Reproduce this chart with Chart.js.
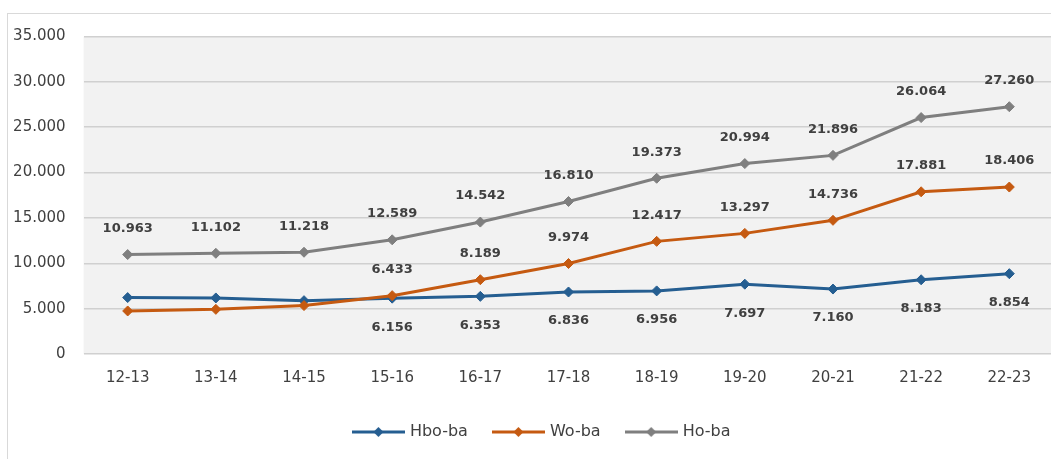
<!DOCTYPE html>
<html>
<head>
<meta charset="utf-8">
<script src="https://cdn.jsdelivr.net/npm/chart.js@4.4.0/dist/chart.umd.min.js"></script>
<style>
  html, body { margin: 0; padding: 0; background: #fff; overflow: hidden; }
  #wrap { position: absolute; left: 0; top: 0; width: 1060px; height: 459px; }
  #frame { position: absolute; left: 7px; top: 13px; width: 1100px; height: 500px;
           border-left: 1px solid #d9d9d9; border-top: 1px solid #d9d9d9; }
</style>
</head>
<body>
<div id="frame"></div>
<div id="wrap"><canvas id="chart" width="1060" height="459"></canvas></div>
<script>
// jaren
const categories = ['12-13', '13-14', '14-15', '15-16', '16-17', '17-18', '18-19', '19-20', '20-21', '21-22', '22-23'];

// aantallen per opleidingsniveau
const hboBa = [6220, 6180, 5880, 6156, 6353, 6836, 6956, 7697, 7160, 8183, 8854];
const woBa = [4743, 4922, 5338, 6433, 8189, 9974, 12417, 13297, 14736, 17881, 18406];
const hoBa = [10963, 11102, 11218, 12589, 14542, 16810, 19373, 20994, 21896, 26064, 27260];

const seriesNames = ['Hbo-ba', 'Wo-ba', 'Ho-ba'];
// eerste index waarvoor een waardelabel getoond wordt
const labelFrom = [3, 3, 0];

const yTicks = [0, 5000, 10000, 15000, 20000, 25000, 30000, 35000];

const colors = ['#255e91', '#c55a11', '#7f7f7f'];
const textColor = '#404040';

function fmt(v) {
    return String(v).replace(/\B(?=(\d{3})+(?!\d))/g, '.');
}

// legend symbool: lijn met ruit in het midden
function legendIcon(color) {
    const c = document.createElement('canvas');
    c.width = 53;
    c.height = 14;
    const g = c.getContext('2d');
    g.strokeStyle = color;
    g.lineWidth = 3;
    g.beginPath();
    g.moveTo(0, 7);
    g.lineTo(53, 7);
    g.stroke();
    g.fillStyle = color;
    g.beginPath();
    g.moveTo(26.5, 2);
    g.lineTo(31.5, 7);
    g.lineTo(26.5, 12);
    g.lineTo(21.5, 7);
    g.closePath();
    g.fill();
    return c;
}
const icons = colors.map(legendIcon);

const plotBg = {
    id: 'plotBg',
    beforeDraw(chart) {
        const a = chart.chartArea;
        const ctx = chart.ctx;
        ctx.save();
        ctx.fillStyle = '#f2f2f2';
        ctx.fillRect(a.left, a.top, a.right - a.left, a.bottom - a.top);
        ctx.restore();
    }
};

// legenda iets naar rechts, zoals in het origineel
const legendShift = {
    id: 'legendShift',
    afterLayout(chart) {
        if (chart.legend) chart.legend.left += 32;
    }
};

// waardelabels boven / onder de punten
const labelOffsets = [29, -26, -26];
const valueLabels = {
    id: 'valueLabels',
    afterDatasetsDraw(chart) {
        const ctx = chart.ctx;
        ctx.save();
        ctx.font = 'bold 13px "DejaVu Sans"';
        ctx.fillStyle = textColor;
        ctx.textAlign = 'center';
        ctx.textBaseline = 'middle';
        chart.data.datasets.forEach((ds, d) => {
            const meta = chart.getDatasetMeta(d);
            meta.data.forEach((pt, i) => {
                if (i < labelFrom[d]) return;
                ctx.fillText(fmt(ds.data[i]), pt.x, pt.y + labelOffsets[d]);
            });
        });
        ctx.restore();
    }
};

const seriesData = [hboBa, woBa, hoBa];
const drawOrder = [2, 1, 0];

new Chart(document.getElementById('chart').getContext('2d'), {
    type: 'line',
    data: {
        labels: categories,
        datasets: seriesData.map((vals, i) => ({
            label: seriesNames[i],
            data: vals,
            borderColor: colors[i],
            backgroundColor: colors[i],
            borderWidth: 3,
            pointStyle: 'rectRot',
            pointRadius: 5,
            pointBorderWidth: 1,
            pointBorderColor: colors[i],
            pointBackgroundColor: colors[i],
            tension: 0,
            fill: false,
            order: drawOrder[i]
        }))
    },
    options: {
        responsive: false,
        animation: false,
        layout: {
            padding: { left: 0, top: 36.5, right: 6.6, bottom: 9 }
        },
        plugins: {
            tooltip: { enabled: false },
            legend: {
                position: 'bottom',
                labels: {
                    usePointStyle: true,
                    pointStyleWidth: 47,
                    padding: 27,
                    color: textColor,
                    font: { family: 'DejaVu Sans', size: 16 },
                    sort: (a, b) => a.datasetIndex - b.datasetIndex,
                    generateLabels(chart) {
                        const items = Chart.defaults.plugins.legend.labels.generateLabels(chart);
                        items.forEach(it => { it.pointStyle = icons[it.datasetIndex]; });
                        return items;
                    }
                }
            }
        },
        scales: {
            x: {
                offset: true,
                grid: { display: false, drawTicks: false },
                border: { display: false },
                ticks: {
                    color: textColor,
                    padding: 15,
                    maxRotation: 0,
                    font: { family: 'DejaVu Sans', size: 15 }
                },
                afterFit(scale) { scale.height = 43; }
            },
            y: {
                min: 0,
                max: 35000,
                grid: { color: '#d0d0d0', lineWidth: 1.5, drawTicks: false },
                border: { display: false },
                afterBuildTicks(scale) {
                    scale.ticks = yTicks.map(v => ({ value: v }));
                },
                ticks: {
                    color: textColor,
                    padding: 18,
                    font: { family: 'DejaVu Sans', size: 15 },
                    callback: v => fmt(v)
                },
                afterFit(scale) { scale.width = 83.6; }
            }
        }
    },
    plugins: [plotBg, legendShift, valueLabels]
});
</script>
</body>
</html>
